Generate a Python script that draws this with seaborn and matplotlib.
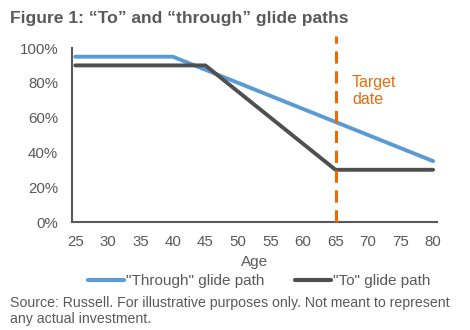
import matplotlib
matplotlib.use("Agg")
import matplotlib.pyplot as plt
import seaborn as sns
import pandas as pd
from matplotlib.ticker import FuncFormatter
from matplotlib.lines import Line2D

through_age = [25, 40, 80]
through_pct = [95, 95, 35]
to_age = [25, 45, 65, 80]
to_pct = [90, 90, 30, 30]
x_ticks = [25, 30, 35, 40, 45, 50, 55, 60, 65, 70, 75, 80]
y_ticks = [0, 20, 40, 60, 80, 100]
target_age = 65

sns.set_theme(style="white")
plt.rcParams['font.family'] = ['Liberation Sans', 'DejaVu Sans']

GRAY = "#595959"
BLUE = "#5B9BD5"
DARK = "#4F4F4F"
ORANGE = "#E46C0A"

df = pd.concat([
    pd.DataFrame({"Age": through_age, "Pct": through_pct, "Series": '"Through" glide path'}),
    pd.DataFrame({"Age": to_age, "Pct": to_pct, "Series": '"To" glide path'}),
])

fig = plt.figure(figsize=(4.7, 3.3), dpi=100)
ax = fig.add_axes([72/470, 1-222/330, (437-72)/470, (222-48)/330])
sns.lineplot(data=df, x="Age", y="Pct", hue="Series",
             palette=[BLUE, DARK], linewidth=2.8, ax=ax, legend=False, sort=False)
ax.axvline(target_age, ymin=0, ymax=1.07, color=ORANGE, lw=2.2,
           ls=(0, (4, 2.5)), clip_on=False, zorder=5)
ax.text(0.767, 0.753, "Target\ndate", transform=ax.transAxes, color=ORANGE,
        fontsize=11.5, va="center", ha="left", linespacing=1.1)

ax.set_xlim(24.5, 80.6)
ax.set_ylim(0, 100)
ax.set_xticks(x_ticks)
ax.set_yticks(y_ticks)
ax.yaxis.set_major_formatter(FuncFormatter(lambda v, p: f"{int(v)}%"))
ax.tick_params(axis="both", length=0, labelsize=10.8, labelcolor=GRAY, pad=9)
ax.tick_params(axis="y", pad=10)
for s in ["top", "right"]:
    ax.spines[s].set_visible(False)
for s in ["left", "bottom"]:
    ax.spines[s].set_color(GRAY)
    ax.spines[s].set_linewidth(1.5)
ax.set_xlabel("Age", color=GRAY, fontsize=11, labelpad=5)
ax.set_ylabel("")

handles = [Line2D([], [], color=BLUE, lw=3), Line2D([], [], color=DARK, lw=3)]
fig.legend(handles, ['"Through" glide path', '"To" glide path'],
           loc="center", bbox_to_anchor=(259/470, 1-281/330), ncol=2, frameon=False,
           fontsize=11, labelcolor=GRAY, handlelength=2.4, handletextpad=0.1,
           columnspacing=2.0, borderaxespad=0)

fig.text(10/470, 1-18/330, "Figure 1: \u201cTo\u201d and \u201cthrough\u201d glide paths",
         fontsize=12.6, fontweight="bold", color=GRAY, va="center", ha="left")
fig.text(10/470, 1-311/330,
         "Source: Russell. For illustrative purposes only. Not meant to represent\nany actual investment.",
         fontsize=10.2, color=GRAY, va="center", ha="left", linespacing=1.1)

fig.savefig("out.png", dpi=100, facecolor="white")
